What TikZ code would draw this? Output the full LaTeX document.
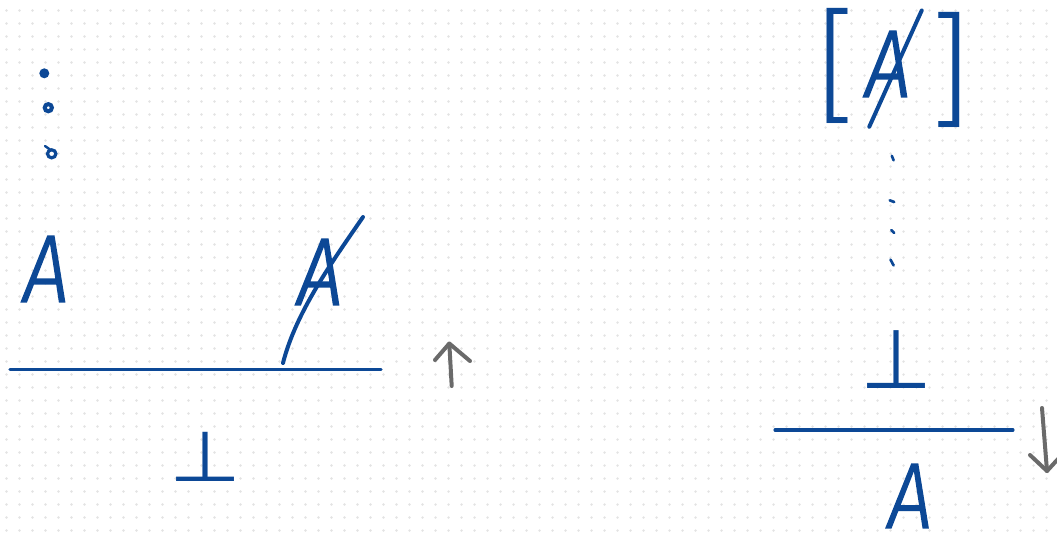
\documentclass[tikz,border=0pt]{standalone}
\usepackage{fontspec}
\newfontfamily\handfont{Fira Sans Light Italic}[FakeStretch=0.85,FakeBold=1.5]
\newfontfamily\brackfont{Fira Sans Light}
\newfontfamily\tackfont{DejaVu Sans}
\definecolor{ink}{HTML}{0C4896}
\definecolor{pencil}{HTML}{6A6A6A}
\definecolor{dotc}{HTML}{E3E3E3}
\tikzset{
  letter/.style={inner sep=0pt, outer sep=0pt, text=ink, font=\handfont\fontsize{72}{72}\selectfont},
  tack/.style={inner sep=0pt, outer sep=0pt, text=ink, font=\tackfont\fontsize{62}{62}\selectfont},
  brack/.style={inner sep=0pt, outer sep=0pt, text=ink, font=\brackfont\fontsize{94}{94}\selectfont},
  pen/.style={draw=ink, line width=3pt, line cap=round, line join=round},
  rule/.style={draw=ink, line width=2.3pt, line cap=round},
  pencilarrow/.style={draw=pencil, line width=3pt, line cap=round, line join=round},
  gridrow/.style={draw=dotc, line width=1.9pt, line cap=round, dash pattern=on 0pt off 9.75pt},
}
\begin{document}
\begin{tikzpicture}[x=0.75pt,y=-0.75pt]
\useasboundingbox (0,0) rectangle (1057,537);
\fill[white] (0,0) rectangle (1057,537);
% dot grid
\foreach \j in {0,...,41} { \draw[gridrow] (6.5,10.5+13*\j) -- (1060,10.5+13*\j); }

% ---------- left derivation ----------
% vertical dots
\fill[ink] (44.3,73.3) circle[radius=5];
\draw[ink, line width=3pt] (48.3,107.7) circle[radius=3.6];
\draw[ink, line width=2.4pt] (51.7,153.8) ellipse[x radius=4.2, y radius=4];
\draw[ink, line width=1.8pt, line cap=round] (45,146) -- (50,149.5);

\node[letter] (aL) at (46,269) {A};
\node[letter] (aNL) at (320,272) {A};
\coordinate (sLt) at (363,217);
\coordinate (sLb) at (283,363);
\draw[pen] (sLt) .. controls (332,262) and (296,312) .. (sLb);

\coordinate (ruleLa) at (10,369.5);
\coordinate (ruleLb) at (381,369.5);
\draw[rule] (ruleLa) -- (ruleLb);

\node[tack] (botL) at (206,457) {\scalebox{1}[0.85]{⊥}};

% up arrow
\coordinate (upBot) at (451.7,386);
\coordinate (upTop) at (449.3,343.5);
\draw[pencilarrow] (upBot) -- (upTop);
\draw[pencilarrow] (435,360) -- (upTop) -- (470,361);

% ---------- right derivation ----------
\node[brack] (lbr) at (836,66) {[};
\node[brack] (rbr) at (950,70) {]};
\node[letter] (aNR) at (888,64) {A};
\coordinate (sRt) at (921.7,10.5);
\coordinate (sRb) at (869.3,126.7);
\draw[pen] (sRt) -- (sRb);

% vertical ticks
\draw[ink, line width=2pt, line cap=round] (891.8,155.8) -- (893.6,160.3);
\draw[ink, line width=2pt, line cap=round] (889.7,200.3) -- (894.2,202);
\draw[ink, line width=2pt, line cap=round] (891.4,230.1) -- (894.2,232.9);
\draw[ink, line width=2pt, line cap=round] (890.5,259.6) -- (893.6,265.4);

\node[tack] (botR) at (896,360) {⊥};

\coordinate (ruleRa) at (775,430);
\coordinate (ruleRb) at (1013,430);
\draw[rule] (ruleRa) -- (ruleRb);

\node[letter, font=\handfont\fontsize{70}{70}\selectfont] (aB) at (910,496) {A};

% down arrow
\coordinate (dnTop) at (1042,408);
\coordinate (dnBot) at (1047,471);
\draw[pencilarrow] (dnTop) -- (dnBot);
\draw[pencilarrow] (1030,455) -- (dnBot) -- (1058,459);
\end{tikzpicture}
\end{document}
